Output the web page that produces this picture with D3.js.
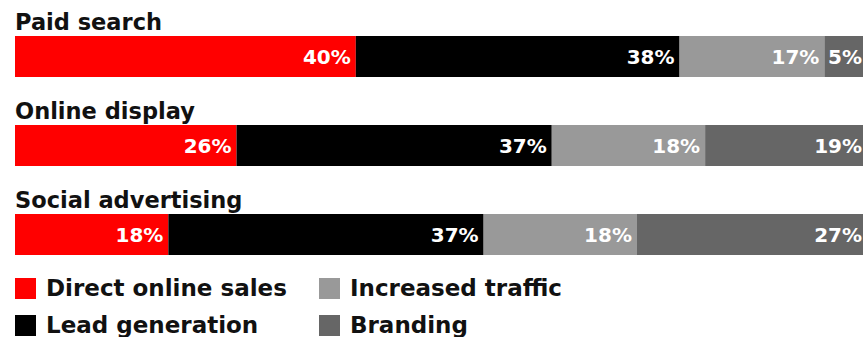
<!DOCTYPE html>
<html>
<head>
<meta charset="utf-8">
<script src="https://cdn.jsdelivr.net/npm/d3@7"></script>
<style>
  html, body { margin: 0; padding: 0; background: #fff; }
  svg { display: block; font-family: "DejaVu Sans", Verdana, sans-serif; font-weight: bold; }
</style>
</head>
<body>
<div id="chart"></div>
<script>
// Share of spend by objective, per channel (percent)
const categories = ["Paid search", "Online display", "Social advertising"];
const seriesNames = ["Direct online sales", "Lead generation", "Increased traffic", "Branding"];
const directSales = [40, 26, 18];
const leadGen     = [38, 37, 37];
const traffic     = [17, 18, 18];
const branding    = [5, 19, 27];
const colors = ["#ff0000", "#000000", "#999999", "#666666"];

const W = 863, H = 337;
const svg = d3.select("#chart").append("svg").attr("width", W).attr("height", H);

// rows built from the arrays for d3.stack
const rows = categories.map((c, i) => ({
  cat: c,
  [seriesNames[0]]: directSales[i],
  [seriesNames[1]]: leadGen[i],
  [seriesNames[2]]: traffic[i],
  [seriesNames[3]]: branding[i]
}));
const stacked = d3.stack().keys(seriesNames)(rows);

const x = d3.scaleLinear().domain([0, 100]).range([15, 867]);
const y = d3.scalePoint().domain(categories).range([36, 214]);
const barH = 41;
const color = d3.scaleOrdinal().domain(seriesNames).range(colors);

// row titles
svg.append("g").selectAll("text").data(categories).join("text")
  .attr("x", 15).attr("y", d => y(d) - 6)
  .attr("font-size", 22.5).attr("fill", "#111")
  .text(d => d);

// stacked segments
const layer = svg.append("g").selectAll("g").data(stacked).join("g")
  .attr("fill", d => color(d.key));
layer.selectAll("rect").data(d => d).join("rect")
  .attr("x", d => x(d[0]))
  .attr("y", d => y(d.data.cat))
  .attr("width", d => x(d[1]) - x(d[0]))
  .attr("height", barH);

// value labels, right aligned inside each segment
const labels = svg.append("g").selectAll("g").data(stacked).join("g");
labels.selectAll("text").data(d => d.map(v => ({ v, key: d.key }))).join("text")
  .attr("x", d => x(d.v[1]) - 5)
  .attr("y", d => y(d.v.data.cat) + barH / 2 + 7)
  .attr("text-anchor", "end")
  .attr("font-size", 20)
  .attr("fill", "#fff")
  .text(d => (d.v[1] - d.v[0]) + "%");

// legend, two columns
const legendX = [15, 319], legendY = [278, 315];
const lg = svg.append("g").selectAll("g").data(seriesNames).join("g")
  .attr("transform", (d, i) => `translate(${legendX[Math.floor(i / 2)]},${legendY[i % 2]})`);
lg.append("rect").attr("width", 21).attr("height", 21).attr("fill", d => color(d));
lg.append("text").attr("x", 31).attr("y", 18)
  .attr("font-size", 23).attr("fill", "#111")
  .text(d => d);
</script>
</body>
</html>
